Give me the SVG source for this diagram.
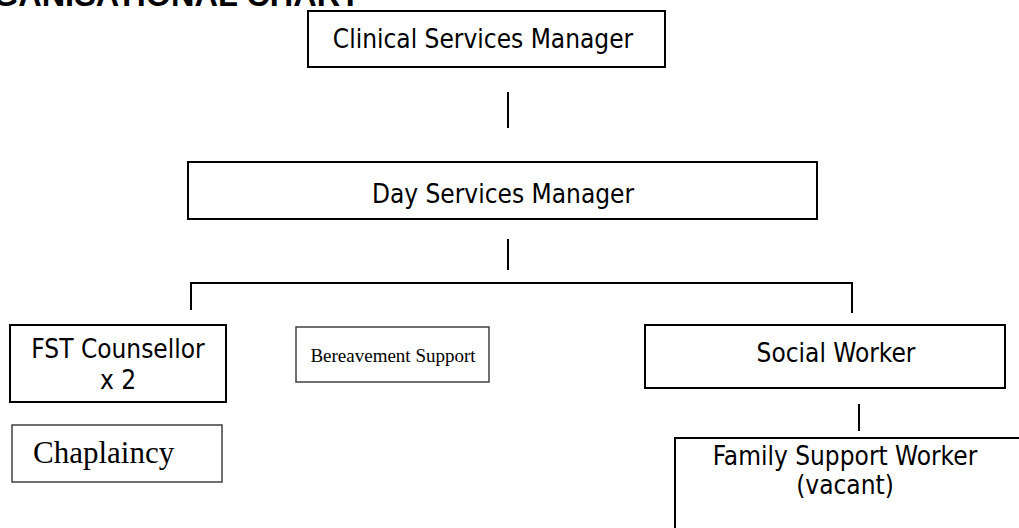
<svg xmlns="http://www.w3.org/2000/svg" width="1019" height="528" viewBox="0 0 1019 528">
<style>
.bx{fill:#fff;stroke:#000;stroke-width:2}
.bg{fill:#fff;stroke:#404040;stroke-width:1.5}
.t{font-family:"DejaVu Sans Condensed","DejaVu Sans",sans-serif;font-stretch:condensed;font-size:26px;fill:#000}
.tm{font-family:"Liberation Serif",serif;fill:#000}
.ln{stroke:#000;stroke-width:2;fill:none}
</style>
<rect width="1019" height="528" fill="#fff"/>
<text x="360" y="6" text-anchor="end" font-family="Liberation Sans, Arial, sans-serif" font-weight="bold" font-size="32.5">ORGANISATIONAL CHART</text>
<g id="connectors">
<line class="ln" x1="508" y1="92" x2="508" y2="128"/>
<line class="ln" x1="508" y1="239" x2="508" y2="270"/>
<polyline class="ln" points="191,310 191,283 852,283 852,313"/>
<line class="ln" x1="859" y1="404" x2="859" y2="431"/>
</g>
<g id="clinical">
<rect class="bx" x="308" y="11" width="357" height="56"/>
<text class="t" x="483" y="48" text-anchor="middle">Clinical Services Manager</text>
</g>
<g id="day">
<rect class="bx" x="188" y="162" width="629" height="57"/>
<text class="t" x="503" y="203" text-anchor="middle">Day Services Manager</text>
</g>
<g id="fst">
<rect class="bx" x="10" y="325" width="216" height="77"/>
<text class="t" x="118" y="358" text-anchor="middle">FST Counsellor</text>
<text class="t" x="118" y="389" text-anchor="middle">x 2</text>
</g>
<g id="bereavement">
<rect class="bg" x="296" y="327" width="193" height="55"/>
<text class="tm" x="393" y="362" text-anchor="middle" font-size="19">Bereavement Support</text>
</g>
<g id="social">
<rect class="bx" x="645" y="325" width="360" height="63"/>
<text class="t" x="836" y="362" text-anchor="middle">Social Worker</text>
</g>
<g id="chaplaincy">
<rect class="bg" x="12" y="425" width="210" height="57"/>
<text class="tm" x="33" y="463" font-size="31">Chaplaincy</text>
</g>
<g id="family">
<rect class="bx" x="675" y="438" width="360" height="100"/>
<text class="t" x="845" y="465" text-anchor="middle">Family Support Worker</text>
<text class="t" x="845" y="494" text-anchor="middle">(vacant)</text>
</g>
</svg>
